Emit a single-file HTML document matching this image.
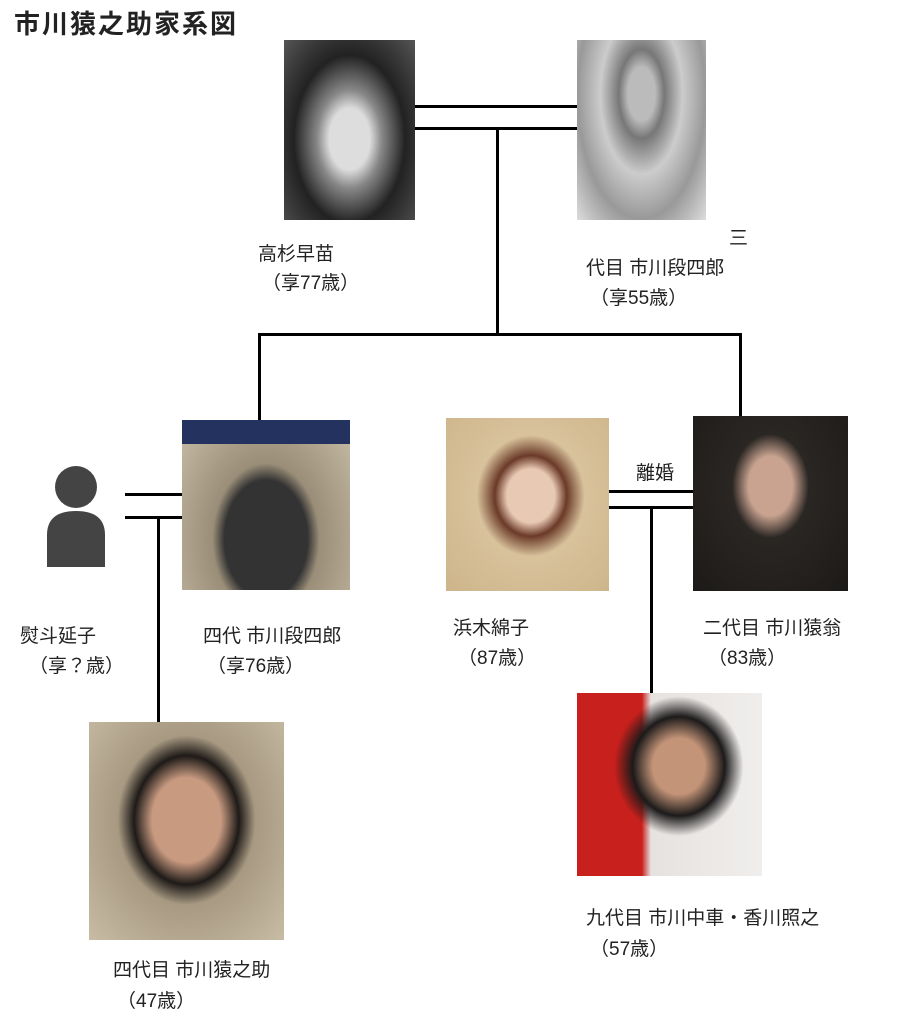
<!DOCTYPE html>
<html><head><meta charset="utf-8"><style>
body{margin:0;width:908px;height:1024px;background:#fff;position:relative;overflow:hidden;font-family:"Liberation Sans","Noto Sans CJK JP",sans-serif;color:#222}
.a{position:absolute}
.t{position:absolute;font-size:19px;white-space:nowrap;line-height:22px}
.l{position:absolute;background:#000}
</style></head><body>
<div class="t" style="left:14px;top:8px;font-size:26px;letter-spacing:2px;font-weight:bold;line-height:32px">市川猿之助家系図</div>

<div class="a" style="left:284px;top:40px;width:131px;height:180px;background:radial-gradient(ellipse at 50% 55%,#ddd 0 22%,#888 35%,#222 60%,#555 100%)"></div>
<div class="a" style="left:577px;top:40px;width:129px;height:180px;background:radial-gradient(ellipse at 50% 30%,#bbb 0 15%,#777 25%,#ccc 45%,#999 70%,#ddd 100%)"></div>
<svg class="a" style="left:45px;top:465px" width="62" height="102"><circle cx="31" cy="22" r="21" fill="#444"/><path d="M2 102 V70 Q2 46 31 46 Q60 46 60 70 V102Z" fill="#444"/></svg>
<div class="a" style="left:182px;top:420px;width:168px;height:170px;background:linear-gradient(#23325e 0 14%,transparent 14%),radial-gradient(ellipse at 50% 70%,#333 0 35%,#9a8e78 45%,#c9bea8 100%)"></div>
<div class="a" style="left:446px;top:418px;width:163px;height:173px;background:radial-gradient(ellipse at 52% 45%,#e8c9b4 0 20%,#6b3a28 30%,#d8c29c 45%,#cdb48a 100%)"></div>
<div class="a" style="left:693px;top:416px;width:155px;height:175px;background:radial-gradient(ellipse at 50% 40%,#c9a390 0 20%,#2a2623 35%,#1c1a18 100%)"></div>
<div class="a" style="left:89px;top:722px;width:195px;height:218px;background:radial-gradient(ellipse at 50% 45%,#c89a80 0 25%,#1e1a18 38%,#a89a82 50%,#c8bca4 100%)"></div>
<div class="a" style="left:577px;top:693px;width:185px;height:183px;background:radial-gradient(ellipse at 55% 40%,#c49478 0 18%,#1c1a1a 32%,transparent 45%),linear-gradient(90deg,#c8201c 0 35%,#e6e2e0 40%,#f0eeec 100%)"></div>

<div class="l" style="left:415px;top:105px;width:162px;height:3px"></div>
<div class="l" style="left:415px;top:127px;width:162px;height:3px"></div>
<div class="l" style="left:496px;top:127px;width:3px;height:208px"></div>
<div class="l" style="left:258px;top:333px;width:484px;height:3px"></div>
<div class="l" style="left:258px;top:333px;width:3px;height:87px"></div>
<div class="l" style="left:739px;top:333px;width:3px;height:83px"></div>
<div class="l" style="left:125px;top:493px;width:57px;height:3px"></div>
<div class="l" style="left:125px;top:516px;width:57px;height:3px"></div>
<div class="l" style="left:157px;top:516px;width:3px;height:206px"></div>
<div class="l" style="left:609px;top:490px;width:84px;height:3px"></div>
<div class="l" style="left:609px;top:506px;width:84px;height:3px"></div>
<div class="l" style="left:650px;top:506px;width:3px;height:187px"></div>
<div class="t" style="left:636px;top:463px">離婚</div>

<div class="t" style="left:258px;top:244px">高杉早苗</div>
<div class="t" style="left:262px;top:273px">（享77歳）</div>
<div class="t" style="left:729px;top:228px">三</div>
<div class="t" style="left:586px;top:258px">代目 市川段四郎</div>
<div class="t" style="left:590px;top:288px">（享55歳）</div>
<div class="t" style="left:20px;top:626px">熨斗延子</div>
<div class="t" style="left:29px;top:656px">（享？歳）</div>
<div class="t" style="left:203px;top:626px">四代 市川段四郎</div>
<div class="t" style="left:207px;top:656px">（享76歳）</div>
<div class="t" style="left:453px;top:618px">浜木綿子</div>
<div class="t" style="left:458px;top:648px">（87歳）</div>
<div class="t" style="left:703px;top:618px">二代目 市川猿翁</div>
<div class="t" style="left:708px;top:648px">（83歳）</div>
<div class="t" style="left:586px;top:908px">九代目 市川中車・香川照之</div>
<div class="t" style="left:590px;top:939px">（57歳）</div>
<div class="t" style="left:113px;top:960px">四代目 市川猿之助</div>
<div class="t" style="left:117px;top:991px">（47歳）</div>
</body></html>
